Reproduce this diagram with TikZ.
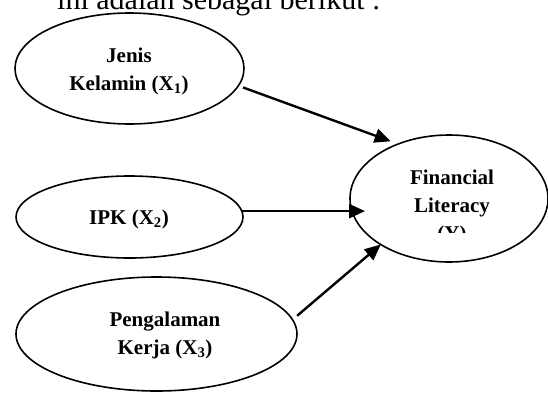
\documentclass[tikz,border=0pt]{standalone}
\usepackage{fontspec}
\setmainfont{Liberation Serif}
\usetikzlibrary{shapes.geometric,arrows.meta}

\begin{document}
\begin{tikzpicture}[x=1pt,y=1pt]
    \tikzstyle{every node}=[font=\fontsize{21}{28}\selectfont\bfseries]
    \tikzstyle{oval}=[draw,ellipse,line width=1.6pt,inner sep=0pt,outer sep=0pt]
    \tikzstyle{caption}=[align=center,inner sep=0pt]
    \tikzstyle{link}=[-{Triangle[length=16pt,width=14pt]},line width=2.4pt]
    \begin{scope}
       \clip (0,0) rectangle (548,392);

       \node[anchor=base west,inner sep=0pt,font=\fontsize{30}{36}\selectfont] (intro) at (57,382) {ini adalah sebagai berikut :};

       \node[oval,minimum width=229pt,minimum height=111pt] (jk) at (129.5,323.5) {};
       \node[caption] (jktext) at (129,321) {Jenis\\Kelamin (X\textsubscript{1})};

       \node[oval,minimum width=227pt,minimum height=82pt] (ipk) at (129.5,175) {};
       \node[caption,anchor=base] (ipktext) at (129,168) {IPK (X\textsubscript{2})};

       \node[oval,minimum width=281pt,minimum height=114pt] (pk) at (156.5,58) {};
       \node[caption] (pktext) at (165,57) {Pengalaman\\Kerja (X\textsubscript{3})};

       \node[oval,minimum width=198pt,minimum height=127pt] (fl) at (449,193.5) {};
       \begin{scope}
           \clip (350,160) rectangle (548,260);
           \node[caption] (fltext) at (452,184.6) {Financial\\Literacy\\(Y)};
       \end{scope}

       \draw[link,shorten <=5pt,shorten >=8pt] (jk.-9) -- (fl.133);
       \draw[link,shorten >=-15pt] (ipk.3) -- (ipk.3 -| fl.west);
       \draw[link,shorten <=6pt] (pk.6) -- (fl.214);

    \end{scope}
\end{tikzpicture}
\end{document}
